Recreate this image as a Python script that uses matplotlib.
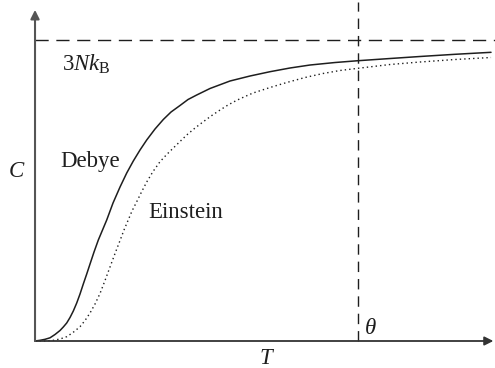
import matplotlib
matplotlib.use("Agg")
import matplotlib.pyplot as plt

plt.rcParams["mathtext.fontset"] = "custom"
plt.rcParams["mathtext.rm"] = "Liberation Serif"
plt.rcParams["mathtext.it"] = "Liberation Serif:italic"

# Reduced temperature T/theta and reduced heat capacity C/(3 N k_B)
debye_t = [0.0000, 0.0155, 0.0310, 0.0464, 0.0619, 0.0774, 0.0876, 0.0981, 0.1084,
           0.1186, 0.1291, 0.1393, 0.1495, 0.1601, 0.1703, 0.1827, 0.1960, 0.2090,
           0.2220, 0.2415, 0.2632, 0.2839, 0.3043, 0.3251, 0.3458, 0.3715, 0.3972,
           0.4211, 0.4489, 0.4737, 0.5006, 0.5418, 0.6037, 0.6656, 0.7276, 0.7895,
           0.8514, 0.9288, 1.0000, 1.0991, 1.1920, 1.3003, 1.4118]
debye_c = [0.0000, 0.0023, 0.0056, 0.0106, 0.0216, 0.0349, 0.0465, 0.0598, 0.0781,
           0.0997, 0.1262, 0.1561, 0.1894, 0.2226, 0.2558, 0.2957, 0.3355, 0.3688,
           0.4020, 0.4585, 0.5116, 0.5581, 0.5980, 0.6346, 0.6678, 0.7043, 0.7359,
           0.7608, 0.7824, 0.8023, 0.8173, 0.8389, 0.8638, 0.8804, 0.8947, 0.9070,
           0.9169, 0.9252, 0.9312, 0.9385, 0.9452, 0.9525, 0.9591]

einstein_t = [0.0000, 0.0310, 0.0567, 0.0774, 0.0981, 0.1176, 0.1393, 0.1548, 0.1703,
              0.1858, 0.2012, 0.2167, 0.2322, 0.2477, 0.2632, 0.2755, 0.2879, 0.3003,
              0.3149, 0.3297, 0.3458, 0.3653, 0.3870, 0.4077, 0.4282, 0.4489, 0.4697,
              0.4954, 0.5211, 0.5464, 0.5728, 0.5975, 0.6245, 0.6502, 0.6749, 0.7276,
              0.7793, 0.8359, 0.8916, 0.9443, 1.0000, 1.0991, 1.1920, 1.3003, 1.4118]
einstein_c = [0.0000, 0.0000, 0.0023, 0.0066, 0.0143, 0.0282, 0.0475, 0.0681, 0.0930,
              0.1229, 0.1578, 0.2010, 0.2458, 0.2907, 0.3339, 0.3688, 0.4003, 0.4319,
              0.4628, 0.4950, 0.5282, 0.5631, 0.5957, 0.6196, 0.6412, 0.6628, 0.6844,
              0.7076, 0.7286, 0.7485, 0.7674, 0.7841, 0.7997, 0.8123, 0.8239, 0.8422,
              0.8588, 0.8754, 0.8887, 0.8987, 0.9060, 0.9186, 0.9269, 0.9352, 0.9419]

theta = 1.0
c_limit = 1.0

fig = plt.figure(figsize=(4.95, 3.68), dpi=100)
ax = fig.add_axes([0, 0, 1, 1])
ax.set_xlim(-0.1084, 1.4241)
ax.set_ylim(-0.0897, 1.1329)
ax.axis("off")

serif = "Liberation Serif"
fs = 16.5
ink = "#1e1e1e"

# axes with arrowheads
ax.annotate("", xy=(1.419, 0), xytext=(0, 0),
            arrowprops=dict(arrowstyle="-|>", color="#333333", lw=1.3,
                            mutation_scale=13, shrinkA=0, shrinkB=0))
ax.annotate("", xy=(0, 1.10), xytext=(0, 0),
            arrowprops=dict(arrowstyle="-|>", color="#555555", lw=1.5,
                            mutation_scale=13, shrinkA=0, shrinkB=0))

# classical limit and Debye temperature
ax.plot([0, 1.43], [c_limit, c_limit], color=ink, lw=1.0,
        linestyle=(0, (9.5, 5.5)))
ax.plot([theta, theta], [0, 1.125], color=ink, lw=1.0,
        linestyle=(0, (7.5, 5)))

# heat capacity curves
ax.plot(debye_t, debye_c, color=ink, lw=1.1,
        solid_capstyle="round", solid_joinstyle="round")
ax.plot(einstein_t, einstein_c, color=ink, lw=1.0,
        linestyle=(0, (1, 2.2)))

def px_x(x):
    return (x - 35) / 323.0

def px_y(y):
    return (341 - y) / 301.0

ax.text(px_x(62), px_y(71), r"$3Nk_{\mathrm{B}}$", fontsize=fs, color=ink,
        ha="left", va="baseline")
ax.text(px_x(60), px_y(167), "Debye", family=serif, fontsize=fs,
        color=ink, ha="left", va="baseline")
ax.text(px_x(148), px_y(218), "Einstein", family=serif, fontsize=fs,
        color=ink, ha="left", va="baseline")
ax.text(px_x(8), px_y(177), r"$C$", fontsize=fs, color=ink,
        ha="left", va="baseline")
ax.text(px_x(259), px_y(364), r"$T$", fontsize=fs, color=ink,
        ha="left", va="baseline")
ax.text(px_x(364), px_y(334), r"$\theta$", fontsize=fs, color=ink,
        ha="left", va="baseline")

fig.savefig("out.png", dpi=100)
